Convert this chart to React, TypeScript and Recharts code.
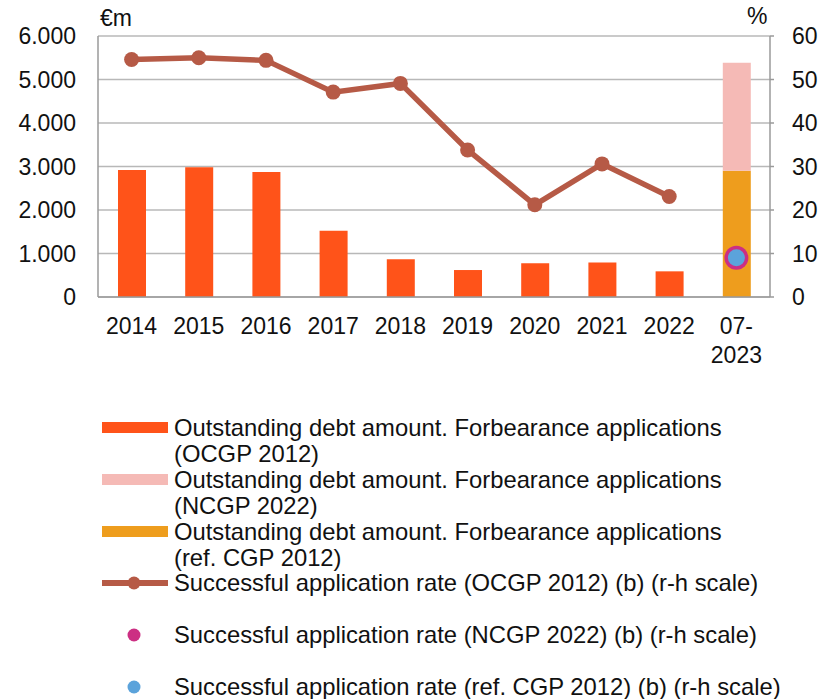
import React from "react";
import { ComposedChart, Bar, Line, XAxis, YAxis, CartesianGrid } from "recharts";

// categories and values
const categories = ["2014", "2015", "2016", "2017", "2018", "2019", "2020", "2021", "2022", "07-2023"];
const debtOcgp = [2920, 2980, 2875, 1525, 865, 620, 775, 795, 590, null];
const debtRefCgp = [null, null, null, null, null, null, null, null, null, 2900];
const debtNcgp = [null, null, null, null, null, null, null, null, null, 2485];
const rateOcgp = [54.6, 55.0, 54.4, 47.1, 49.1, 33.8, 21.2, 30.6, 23.1, null];
const rateNcgp = [null, null, null, null, null, null, null, null, null, 9.0];
const rateRefCgp = [null, null, null, null, null, null, null, null, null, 9.0];

const leftTicks = [0, 1000, 2000, 3000, 4000, 5000, 6000];
const rightTicks = [0, 10, 20, 30, 40, 50, 60];
const boundaryTicks = [1, 2, 3, 4, 5, 6, 7, 8, 9];

const legendItems = [
  { lines: ["Outstanding debt amount. Forbearance applications", "(OCGP 2012)"], kind: "bar", color: "#FF5319" },
  { lines: ["Outstanding debt amount. Forbearance applications", "(NCGP 2022)"], kind: "bar", color: "#F5BAB6" },
  { lines: ["Outstanding debt amount. Forbearance applications", "(ref. CGP 2012)"], kind: "bar", color: "#EE9D1D" },
  { lines: ["Successful application rate (OCGP 2012) (b) (r-h scale)"], kind: "line", color: "#B65A46" },
  { lines: ["Successful application rate (NCGP 2022) (b) (r-h scale)"], kind: "dot", color: "#CC2F83" },
  { lines: ["Successful application rate (ref. CGP 2012) (b) (r-h scale)"], kind: "dot", color: "#5BA3DB" },
];

const data = categories.map((cat, i) => ({
  cat,
  debtOcgp: debtOcgp[i],
  debtRefCgp: debtRefCgp[i],
  debtNcgp: debtNcgp[i],
  rateOcgp: rateOcgp[i],
  rateNcgp: rateNcgp[i],
  rateRefCgp: rateRefCgp[i],
}));

const FONT = "'Liberation Sans', Arial, sans-serif";
const AXIS = "#9a9a9a";
const TICK_FS = 23;
const LEGEND_FS = 23.8;

const fmtThousands = (v: number) => (v === 0 ? "0" : `${Math.floor(v / 1000)}.${String(v % 1000).padStart(3, "0")}`);

const CatTick = (props: any) => {
  const { x, y, payload } = props;
  const parts = String(payload.value).includes("-")
    ? [payload.value.split("-")[0] + "-", payload.value.split("-")[1]]
    : [payload.value];
  return (
    <text x={x} y={y} textAnchor="middle" fill="#111" fontSize={TICK_FS} fontFamily={FONT}>
      {parts.map((p: string, i: number) => (
        <tspan key={i} x={x} dy={i === 0 ? "0.71em" : 29}>
          {p}
        </tspan>
      ))}
    </text>
  );
};

const Empty = () => <g />;

const RingDot = (props: any) => {
  const { cx, cy, value } = props;
  if (value == null || cx == null) return <g />;
  return <circle cx={cx} cy={cy} r={12} fill="#CC2F83" />;
};

const BlueDot = (props: any) => {
  const { cx, cy, value } = props;
  if (value == null || cx == null) return <g />;
  return <circle cx={cx} cy={cy} r={8.5} fill="#5BA3DB" />;
};

const Swatch = ({ kind, color }: { kind: string; color: string }) => (
  <svg width={66} height={26} style={{ position: "absolute", left: 0, top: 0 }}>
    {kind === "bar" && <rect x={0} y={7} width={66} height={11} fill={color} />}
    {kind === "line" && (
      <>
        <line x1={0} y1={13} x2={66} y2={13} stroke={color} strokeWidth={6} />
        <circle cx={32} cy={13} r={6.5} fill={color} />
      </>
    )}
    {kind === "dot" && <circle cx={32} cy={13} r={6.5} fill={color} />}
  </svg>
);

export default function App() {
  return (
    <div style={{ position: "absolute", left: 0, top: 0, width: 821, height: 699, background: "#fff", fontFamily: FONT }}>
      <ComposedChart
        width={821}
        height={699}
        data={data}
        margin={{ top: 36, right: 0, bottom: 342, left: 0 }}
        barGap={0}
      >
        <CartesianGrid vertical={false} stroke="#b8b8b8" strokeWidth={1.3} yAxisId="l" />
        <XAxis
          dataKey="cat"
          height={60}
          axisLine={{ stroke: AXIS, strokeWidth: 1.5 }}
          tickLine={false}
          tickSize={0}
          tickMargin={21}
          tick={<CatTick />}
          interval={0}
        />
        <XAxis
          xAxisId="bounds"
          type="number"
          domain={[0, 10]}
          ticks={boundaryTicks}
          mirror
          axisLine={false}
          tickSize={6}
          tickLine={{ stroke: AXIS, strokeWidth: 1.5 }}
          tick={<Empty />}
          height={0}
        />
        <YAxis
          yAxisId="l"
          width={98}
          domain={[0, 6000]}
          ticks={leftTicks}
          tickFormatter={fmtThousands}
          axisLine={{ stroke: AXIS, strokeWidth: 1.5 }}
          tickLine={false}
          tickSize={0}
          tickMargin={22}
          tick={{ fill: "#111", fontSize: TICK_FS, fontFamily: FONT }}
          interval={0}
        />
        <YAxis
          yAxisId="r"
          orientation="right"
          width={51}
          domain={[0, 60]}
          ticks={rightTicks}
          axisLine={{ stroke: AXIS, strokeWidth: 1.5 }}
          tickLine={{ stroke: AXIS, strokeWidth: 1.5 }}
          tickSize={4}
          tickMargin={18}
          tick={{ fill: "#111", fontSize: TICK_FS, fontFamily: FONT, textAnchor: "start" }}
          interval={0}
        />
        <Bar yAxisId="l" dataKey="debtOcgp" stackId="a" fill="#FF5319" barSize={28} isAnimationActive={false} />
        <Bar yAxisId="l" dataKey="debtRefCgp" stackId="a" fill="#EE9D1D" barSize={28} isAnimationActive={false} />
        <Bar yAxisId="l" dataKey="debtNcgp" stackId="a" fill="#F5BAB6" barSize={28} isAnimationActive={false} />
        <Line
          yAxisId="r"
          dataKey="rateOcgp"
          stroke="#B65A46"
          strokeWidth={5.5}
          dot={{ r: 7.5, fill: "#B65A46", stroke: "#B65A46", strokeWidth: 0 }}
          isAnimationActive={false}
        />
        <Line yAxisId="r" dataKey="rateNcgp" stroke="none" dot={<RingDot />} isAnimationActive={false} />
        <Line yAxisId="r" dataKey="rateRefCgp" stroke="none" dot={<BlueDot />} isAnimationActive={false} />
      </ComposedChart>

      <div style={{ position: "absolute", left: 100, top: 5, fontSize: TICK_FS, color: "#111" }}>€m</div>
      <div style={{ position: "absolute", left: 747, top: 3, fontSize: TICK_FS, color: "#111" }}>%</div>

      {legendItems.map((item, i) => (
        <div
          key={i}
          style={{
            position: "absolute",
            left: 102,
            top: 415 + i * 51.8,
            width: 715,
            height: 52,
          }}
        >
          <Swatch kind={item.kind} color={item.color} />
          <div
            style={{
              position: "absolute",
              left: 72,
              top: 0,
              fontSize: LEGEND_FS,
              lineHeight: "26px",
              color: "#111",
              whiteSpace: "nowrap",
            }}
          >
            {item.lines.map((l, j) => (
              <div key={j}>{l}</div>
            ))}
          </div>
        </div>
      ))}
    </div>
  );
}
